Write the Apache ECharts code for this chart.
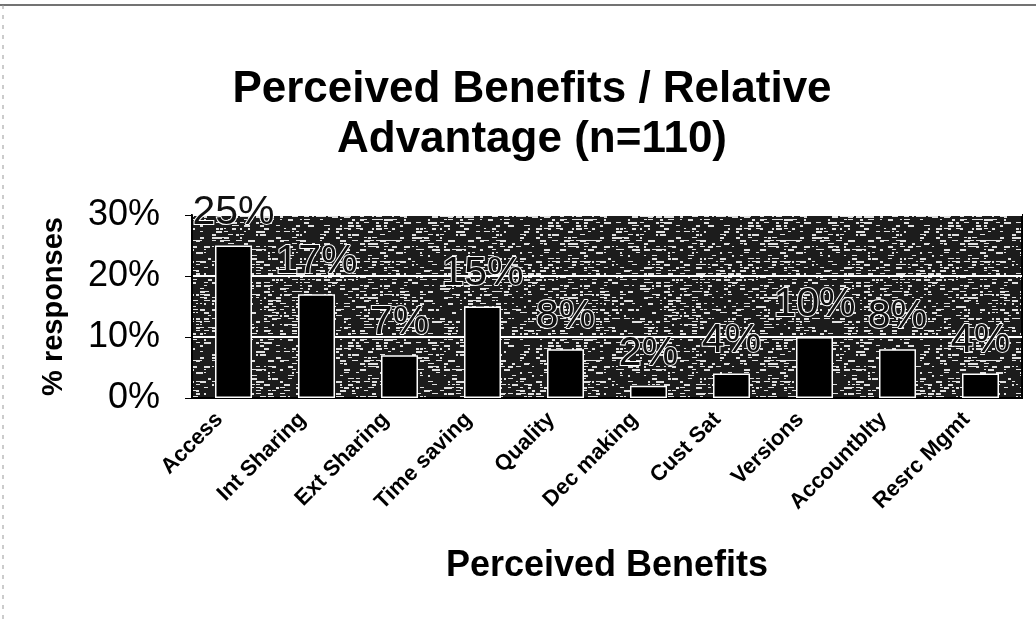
<!DOCTYPE html>
<html>
<head>
<meta charset="utf-8">
<script src="https://cdn.jsdelivr.net/npm/echarts@6/dist/echarts.min.js"></script>
<style>
  html, body { margin: 0; padding: 0; background: #fff; }
  #chart { width: 1036px; height: 623px; }
</style>
</head>
<body>
<div id="chart"></div>
<script>
// Survey results: share of responses per perceived benefit
const categories = ['Access', 'Int Sharing', 'Ext Sharing', 'Time saving', 'Quality',
                    'Dec making', 'Cust Sat', 'Versions', 'Accountblty', 'Resrc Mgmt'];
const responses = [25, 17, 7, 15, 8, 2, 4, 10, 8, 4];
const yTicks = [0, 10, 20, 30];

const FONT = '"Liberation Sans", Arial, Helvetica, sans-serif';

// Speckled fill for the plot area: dark ground with short light dashes,
// laid out by a small integer hash so the texture is the same on every load.
function speckleTexture() {
  const w = 200, h = 120;
  const c = document.createElement('canvas');
  c.width = w; c.height = h;
  const g = c.getContext('2d');
  g.fillStyle = '#1c1c1c';
  g.fillRect(0, 0, w, h);
  g.fillStyle = '#e0e0e0';
  for (let y = 0; y < h; y += 3) {
    for (let x = 0; x < w; x += 4) {
      let k = (x * 374761393 + y * 668265263) | 0;
      k = Math.imul(k ^ (k >>> 13), 1274126177);
      k = (k ^ (k >>> 16)) >>> 0;
      if (k % 100 < 36) {
        g.fillRect(x, y, 2 + (k >>> 8) % 5, 1 + (k >>> 12) % 2);
      }
    }
  }
  return c;
}

const chart = echarts.init(document.getElementById('chart'));
chart.setOption({
  backgroundColor: '#fff',
  animation: false,
  title: {
    text: 'Perceived Benefits / Relative\nAdvantage (n=110)',
    left: 527,
    textAlign: 'center',
    top: 60,
    textStyle: { fontFamily: FONT, fontSize: 44, fontWeight: 'bold', color: '#000', lineHeight: 50 }
  },
  grid: {
    left: 192, right: 14, top: 215, bottom: 225,
    show: true,
    backgroundColor: { image: speckleTexture(), repeat: 'repeat' },
    borderColor: '#000',
    borderWidth: 2
  },
  xAxis: {
    type: 'category',
    data: categories,
    name: 'Perceived Benefits',
    nameLocation: 'middle',
    nameGap: 150,
    nameTextStyle: { fontFamily: FONT, fontSize: 36, fontWeight: 'bold', color: '#000' },
    axisLine: { lineStyle: { color: '#000', width: 2 } },
    axisTick: { show: false },
    axisLabel: {
      rotate: 45,
      margin: 4,
      interval: 0,
      padding: [0, 20, 0, 0],
      fontFamily: FONT, fontSize: 22, fontWeight: 'bold', color: '#000'
    }
  },
  yAxis: {
    type: 'value',
    min: yTicks[0],
    max: yTicks[yTicks.length - 1],
    interval: 10,
    name: '% responses',
    nameLocation: 'middle',
    nameGap: 124,
    nameRotate: 90,
    nameTextStyle: { fontFamily: FONT, fontSize: 29, fontWeight: 'bold', color: '#000' },
    axisLine: { show: true, lineStyle: { color: '#000', width: 2 } },
    axisTick: { show: true, length: 7, lineStyle: { color: '#000', width: 1 } },
    axisLabel: {
      formatter: '{value}%',
      margin: 32,
      fontFamily: FONT, fontSize: 36, color: '#000'
    },
    splitLine: { show: true, lineStyle: { color: '#fff', width: 2 } }
  },
  series: [{
    type: 'bar',
    data: responses,
    barWidth: 37,
    itemStyle: { color: '#000', borderColor: '#fff', borderWidth: 1.5 },
    label: {
      show: true,
      position: 'top',
      distance: 12,
      formatter: '{c}%',
      fontFamily: FONT, fontSize: 41, color: '#111',
      textBorderColor: '#fff', textBorderWidth: 2
    }
  }],
  graphic: [
    { type: 'line', shape: { x1: 0, y1: 5, x2: 1036, y2: 5 }, style: { stroke: '#444', lineWidth: 1.5 } },
    { type: 'line', shape: { x1: 3, y1: 5, x2: 3, y2: 623 }, style: { stroke: '#999', lineWidth: 1, lineDash: [4, 6] } }
  ]
});
</script>
</body>
</html>
